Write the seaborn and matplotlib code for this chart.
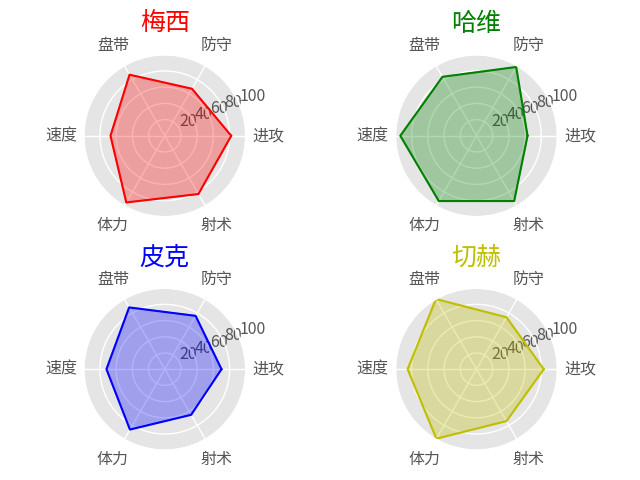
import numpy as np
import matplotlib
matplotlib.use('Agg')
import matplotlib.pyplot as plt
import seaborn as sns

# 能力维度
labels = ['进攻', '防守', '盘带', '速度', '体力', '射术']
players = ['梅西', '哈维', '皮克', '切赫']
colors = ['#ff0000', '#008000', '#0000ff', '#bfbf00']

# 各球员评分
messi = [82, 67, 87, 67, 95, 83]
xavi = [63, 98, 84, 94, 93, 93]
pique = [70, 76, 88, 72, 86, 65]
cech = [83, 74, 100, 85, 99, 74]
scores = [messi, xavi, pique, cech]

sns.set_theme(style='darkgrid', color_codes=False, rc={
    'axes.facecolor': '#E5E5E5',
    'grid.color': 'white',
    'xtick.color': '#555555',
    'ytick.color': '#555555',
    'axes.edgecolor': 'white',
})
plt.rcParams['font.family'] = ['Noto Sans CJK SC', 'DejaVu Sans']
plt.rcParams['axes.unicode_minus'] = False

angles = np.linspace(0, 2 * np.pi, len(labels), endpoint=False)
angles_closed = np.concatenate([angles, [2 * np.pi]])

fig, axes = plt.subplots(2, 2, figsize=(6.4, 4.8), subplot_kw={'projection': 'polar'})
fig.subplots_adjust(left=0.130, right=0.872, bottom=0.062, top=0.886,
                    wspace=0.91, hspace=0.44)

for ax, name, vals, c in zip(axes.flat, players, scores, colors):
    v = np.concatenate([vals, [vals[0]]])
    sns.lineplot(x=angles_closed, y=v, sort=False, ax=ax, color=c, linewidth=1.5)
    ax.fill(angles_closed, v, color=c, alpha=0.3)
    ax.set_thetagrids(np.degrees(angles), labels, fontsize=11.5)
    ax.set_ylim(0, 100)
    ax.set_rgrids([20, 40, 60, 80, 100], fontsize=11.5)
    ax.set_title(name, color=c, fontsize=18, pad=2)
    ax.set_xlabel('')
    ax.set_ylabel('')

plt.savefig('out.png', dpi=100)
